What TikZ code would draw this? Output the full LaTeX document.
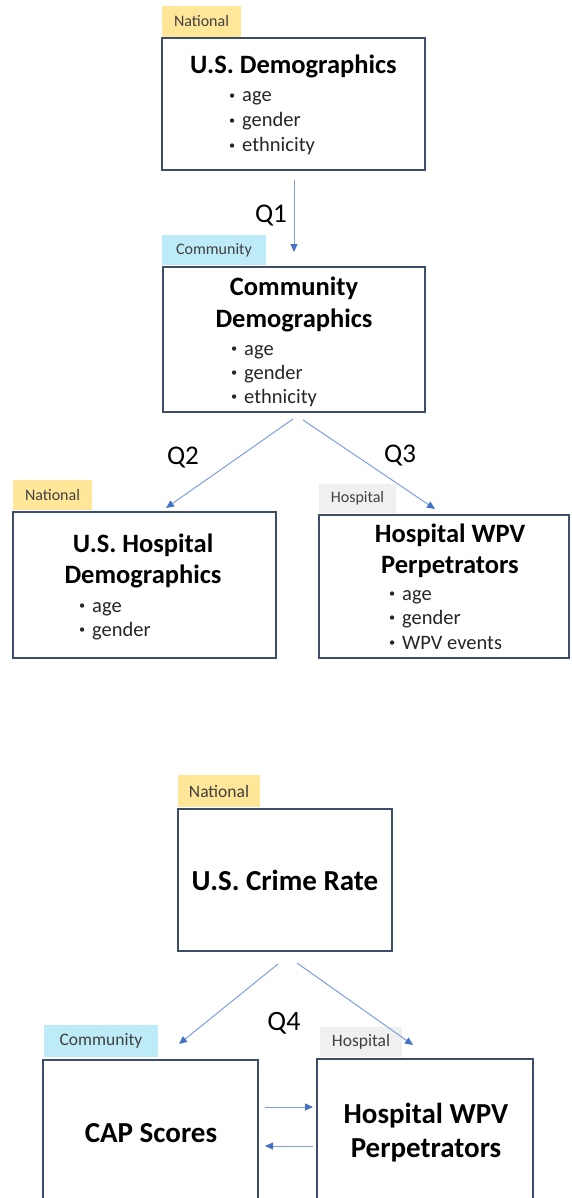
\documentclass[tikz,border=0pt]{standalone}
\usepackage{graphicx}
\usepackage{fontspec}
\setmainfont{Carlito}
\usetikzlibrary{arrows.meta}
\definecolor{boxline}{HTML}{3E4D68}
\definecolor{arrowc}{HTML}{4472C4}
\definecolor{arrowl}{HTML}{7C9FDE}
\definecolor{natc}{HTML}{FFE699}
\definecolor{comc}{HTML}{BDEBF8}
\definecolor{hosc}{HTML}{F0F0F0}
\definecolor{tagtext}{HTML}{404040}
\newcommand{\bl}{\makebox[14pt][l]{\hspace{1pt}\raisebox{0.12em}{\scalebox{0.6}{•}}}}
\tikzset{
 box/.style={draw=boxline, line width=2pt, fill=white, inner sep=0pt},
 tag/.style={inner sep=0pt, text=tagtext},
 smalltag/.style={tag, font=\fontsize{16}{18}\selectfont},
 bigtag/.style={tag, font=\fontsize{17.5}{19}\selectfont},
 ttl/.style={font=\bfseries\fontsize{26.5}{30}\selectfont, anchor=base, inner sep=0pt},
 bttl/.style={font=\bfseries\fontsize{29}{33}\selectfont, anchor=base, inner sep=0pt},
 bul/.style={font=\fontsize{20.5}{24}\selectfont, anchor=base west, inner sep=0pt, text=black!85},
 qlab/.style={font=\fontsize{27}{30}\selectfont, anchor=base, inner sep=0pt},
 arr/.style={draw=arrowl, line width=1pt, -{Triangle[length=8pt,width=7pt,fill=arrowc,color=arrowc]}},
}
\begin{document}
\begin{tikzpicture}[x=1pt,y=-1pt]
\useasboundingbox (0,0) rectangle (572,1198);
\clip (0,0) rectangle (572,1198);

% ---------- top section ----------
\node[smalltag, fill=natc, minimum width=79pt, minimum height=31pt] (t1) at (201.5,21.5) {National};
\node[box, minimum width=263pt, minimum height=132pt] (b1) at (293.5,104) {};
\node[ttl] (b1t) at (293.5,74) {U.S. Demographics};
\node[bul] (b1a) at (228,102) {\bl age};
\node[bul] (b1b) at (228,127) {\bl gender};
\node[bul] (b1c) at (228,152) {\bl ethnicity};

\node[smalltag, fill=comc, minimum width=104pt, minimum height=30pt] (t2) at (214,250) {Community};
\node[box, minimum width=262pt, minimum height=145pt] (b2) at (294,339.5) {};
\node[ttl] (b2t1) at (294,295) {Community};
\node[ttl] (b2t2) at (294,327) {Demographics};
\node[bul] (b2a) at (230,355) {\bl age};
\node[bul] (b2b) at (230,379) {\bl gender};
\node[bul] (b2c) at (230,403) {\bl ethnicity};

\node[smalltag, fill=natc, minimum width=79pt, minimum height=30pt] (t3) at (52.5,495) {National};
\node[box, minimum width=263pt, minimum height=146pt] (b3) at (144.5,585) {};
\node[ttl] (b3t1) at (143,552) {U.S. Hospital};
\node[ttl] (b3t2) at (143,583) {Demographics};
\node[bul] (b3a) at (78,612) {\bl age};
\node[bul] (b3b) at (78,636) {\bl gender};

\node[smalltag, fill=hosc, minimum width=77pt, minimum height=29pt] (t4) at (357.5,498.5) {Hospital};
\node[box, minimum width=250pt, minimum height=143pt] (b4) at (444,586.5) {};
\node[ttl] (b4t1) at (450,542) {Hospital WPV};
\node[ttl] (b4t2) at (450,573) {Perpetrators};
\node[bul] (b4a) at (388,600) {\bl age};
\node[bul] (b4b) at (388,624) {\bl gender};
\node[bul] (b4c) at (388,649) {\bl WPV events};

\node[qlab] (q1) at (271,223) {Q1};
\node[qlab] (q2) at (183,464) {Q2};
\node[qlab] (q3) at (400,462) {Q3};

\coordinate (a1s) at (294,180);
\coordinate (a1e) at (294,252);
\coordinate (a2s) at (293,419);
\coordinate (a2e) at (166,508);
\coordinate (a3s) at (303,420);
\coordinate (a3e) at (435,509);
\draw[arr] (a1s) -- (a1e);
\draw[arr] (a2s) -- (a2e);
\draw[arr] (a3s) -- (a3e);

% ---------- bottom section ----------
\node[bigtag, fill=natc, minimum width=82pt, minimum height=32pt] (t5) at (219,791) {National};
\node[box, minimum width=214pt, minimum height=142pt] (b5) at (285,880) {};
\node[bttl] (b5t) at (285,890) {U.S. Crime Rate};

\node[bigtag, fill=comc, minimum width=114pt, minimum height=32pt] (t6) at (101,1041) {Community};
\node[box, minimum width=215pt, minimum height=150pt] (b6) at (150.5,1135) {};
\node[bttl] (b6t) at (151,1142) {CAP Scores};

\node[bigtag, fill=hosc, minimum width=82pt, minimum height=30pt] (t7) at (361,1042) {Hospital};
\node[box, minimum width=216pt, minimum height=150pt] (b7) at (425,1134) {};
\node[bttl] (b7t1) at (426,1123) {Hospital WPV};
\node[bttl] (b7t2) at (426,1157) {Perpetrators};

\node[qlab, font=\fontsize{28}{30}\selectfont] (q4) at (284,1030) {Q4};

\coordinate (a4s) at (278,964);
\coordinate (a4e) at (179,1044);
\coordinate (a5s) at (297,963);
\coordinate (a5e) at (413,1045);
\coordinate (a6s) at (265,1107);
\coordinate (a6e) at (313,1107);
\coordinate (a7s) at (313,1146);
\coordinate (a7e) at (265,1146);
\draw[arr] (a4s) -- (a4e);
\draw[arr] (a5s) -- (a5e);
\draw[arr] (a6s) -- (a6e);
\draw[arr] (a7s) -- (a7e);
\end{tikzpicture}
\end{document}
